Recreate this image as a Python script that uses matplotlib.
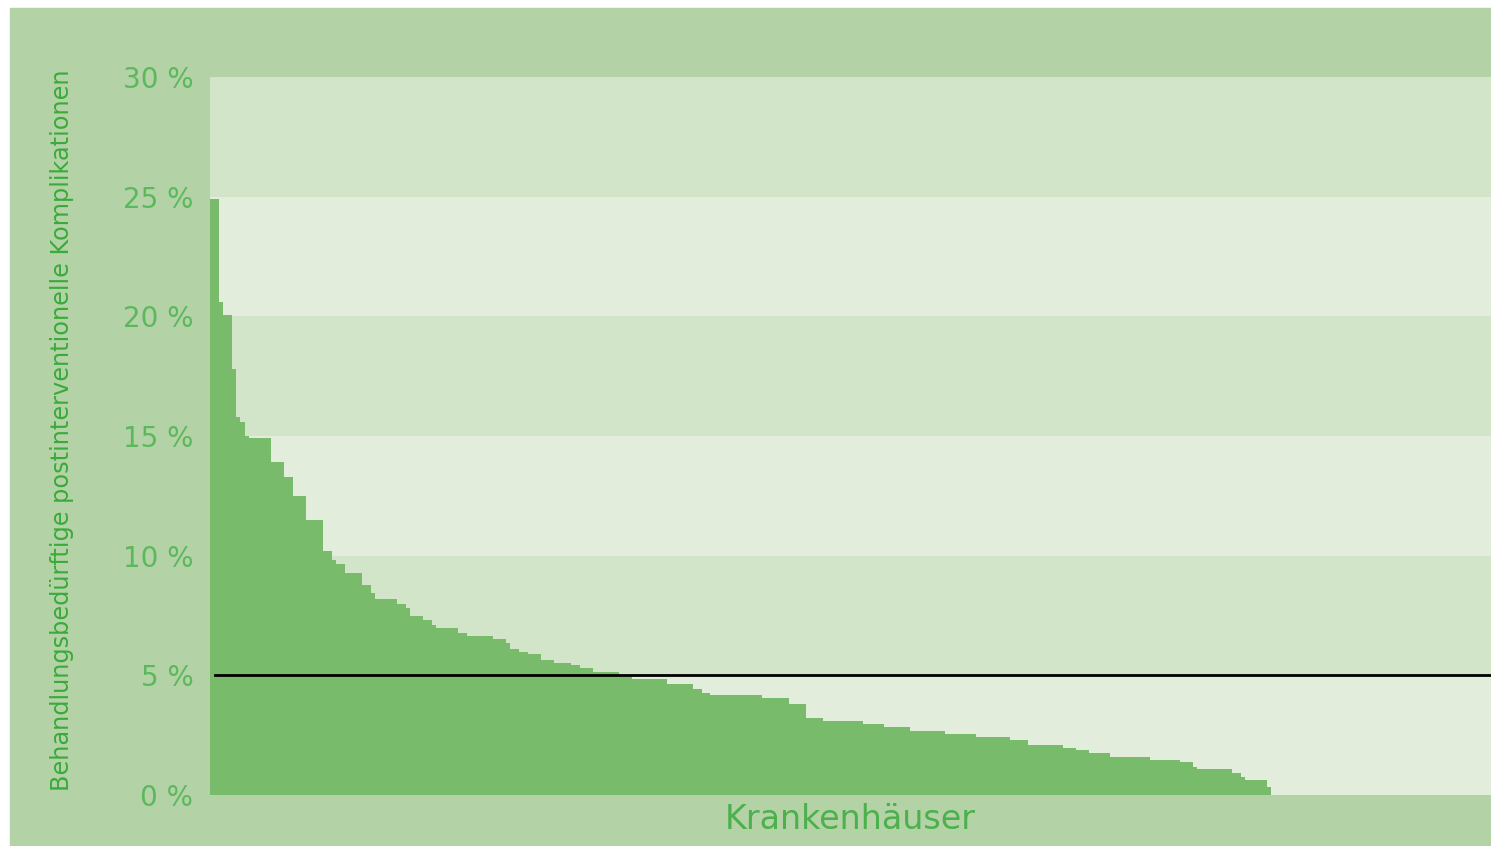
import matplotlib.pyplot as plt
import matplotlib.patches as patches
import numpy as np

# Anteil behandlungsbeduerftiger Komplikationen je Stufe (in %), absteigend sortiert
anteil = [24.9, 20.6, 20.05, 17.8, 15.8, 15.6, 15.0, 14.9, 13.9, 13.3,
          12.5, 11.5, 10.2, 9.8, 9.65, 9.28, 8.78, 8.44, 8.19, 8.0,
          7.8, 7.48, 7.3, 7.1, 6.98, 6.77, 6.64, 6.52, 6.35, 6.1,
          5.98, 5.89, 5.64, 5.52, 5.43, 5.3, 5.14, 5.01, 4.85, 4.64,
          4.43, 4.26, 4.18, 4.05, 3.8, 3.22, 3.09, 2.97, 2.84, 2.67,
          2.55, 2.42, 2.3, 2.09, 1.96, 1.88, 1.75, 1.59, 1.46, 1.38,
          1.17, 1.09, 0.92, 0.75, 0.63, 0.35]
# Anzahl Krankenhaeuser mit diesem Wert
anzahl = [2, 1, 2, 1, 1, 1, 1, 5, 3, 2,
          3, 4, 2, 1, 2, 4, 2, 1, 5, 2,
          1, 3, 2, 1, 5, 2, 6, 3, 1, 2,
          2, 3, 3, 4, 2, 3, 6, 3, 8, 6,
          2, 2, 12, 6, 4, 4, 9, 5, 6, 8,
          7, 8, 4, 8, 3, 3, 5, 9, 7, 3,
          1, 8, 2, 1, 5, 1]
referenz = 5.0
y_ticks = [0, 5, 10, 15, 20, 25, 30]
y_labels = ["0 %", "5 %", "10 %", "15 %", "20 %", "25 %", "30 %"]

werte = np.repeat(anteil, anzahl)
x = np.arange(len(werte))

W, H = 1491, 846
fig = plt.figure(figsize=(W / 100, H / 100), dpi=100, facecolor='white')
fig.patches.append(patches.Rectangle((10 / W, 0), 1 - 10 / W, (H - 8) / H,
                                     transform=fig.transFigure, color='#b3d3a6', zorder=-5))

ax = fig.add_axes([210 / W, (H - 795) / H, (W - 210) / W, (795 - 77) / H], zorder=2)
ax.set_facecolor('none')

band = ['#e2eddb', '#d3e5c9']
for i in range(6):
    ax.axhspan(i * 5, i * 5 + 5, color=band[i % 2], lw=0, zorder=0)

ax.bar(x, werte, width=1.0, align='edge', color='#77bb6b', lw=0, zorder=2)
ax.axhline(referenz, xmin=5 / (W - 210), xmax=1, color='black', lw=2, zorder=3)

ax.set_xlim(0, (W - 210) / 4.35)
ax.set_ylim(0, 30)
ax.set_xticks([])
ax.set_yticks(y_ticks)
ax.set_yticklabels(y_labels, fontsize=20, color='#5cb85c')
ax.tick_params(axis='y', length=0, pad=12)
for s in ax.spines.values():
    s.set_visible(False)

ax.set_xlabel('Krankenhäuser', fontsize=24, color='#4cb04c', labelpad=6)
fig.text(62 / W, 1 - 430 / H, 'Behandlungsbedürftige postinterventionelle Komplikationen',
         rotation=90, ha='center', va='center', fontsize=17.3, color='#3aaa3a')

fig.savefig('out.png', dpi=100, facecolor=fig.get_facecolor())
